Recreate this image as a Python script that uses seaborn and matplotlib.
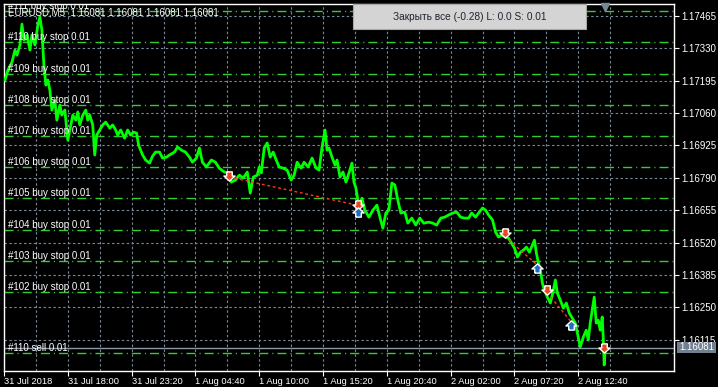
import matplotlib
matplotlib.use("Agg")
import matplotlib.pyplot as plt
from matplotlib.patches import Rectangle
from matplotlib.transforms import blended_transform_factory
from datetime import datetime, timedelta
import pandas as pd
import seaborn as sns

# ---------------- data ----------------
symbol = "EURUSD,M5"
ohlc = [1.16081, 1.16081, 1.16081, 1.16081]
bid_price = 1.16081
start_time = datetime(2018, 7, 31, 12, 40)
bar_minutes = 5

bar_offsets = [
    1, 4, 8, 11, 13, 16, 18, 20, 23, 26, 28, 31, 34, 36, 38, 40, 42, 44, 46, 48,
    51, 53, 56, 58, 61, 64, 66, 69, 72, 74, 76, 79, 82, 84, 86, 89, 91, 93, 96, 99,
    102, 106, 109, 112, 114, 117, 121, 124, 127, 130, 133, 135, 137, 139, 142, 146, 149, 152,
    156, 159, 163, 166, 171, 174, 178, 182, 186, 189, 193, 196, 199, 203, 208, 212, 216, 221,
    224, 228, 232, 236, 240, 244, 247, 250, 254, 256, 258, 261, 264, 267, 270, 273, 276, 280,
    284, 288, 291, 294, 298, 301, 305, 309, 313,
    316, 319, 322, 324, 326, 329, 332, 334, 337, 340, 343, 346, 349, 351, 353, 356, 359, 362,
    366, 370, 374, 377, 380, 383, 386, 389, 392, 395, 398, 402, 405, 409, 413, 417, 421, 426,
    430, 434, 438, 442, 446, 450, 454, 458, 462, 466, 469, 473, 476, 480, 483, 486, 490, 493,
    496, 499, 503, 506, 509, 512, 515, 518, 521, 524, 527, 530, 532, 534, 536, 538, 540, 542,
    545, 548, 551, 553, 555, 558, 561, 564, 567, 570, 573, 576, 578, 581, 584, 586, 588, 590,
    592, 594, 596, 598, 600, 601, 602, 603,
]
close_prices = [
    1.17197, 1.17239, 1.17272, 1.17322, 1.17301, 1.17343, 1.17430, 1.17364, 1.17385, 1.17322,
    1.17385, 1.17343, 1.17426, 1.17460, 1.17405, 1.17260, 1.17176, 1.17197, 1.17155, 1.17072,
    1.17114, 1.17030, 1.17093, 1.17051, 1.17072, 1.16947, 1.16989, 1.17051, 1.17030, 1.17064,
    1.17010, 1.17051, 1.17072, 1.17030, 1.17051, 1.17010, 1.16885, 1.16968, 1.16989, 1.17010,
    1.17022, 1.16997, 1.17010, 1.16989, 1.16968, 1.16989, 1.16955, 1.16989, 1.16968, 1.16980,
    1.16976, 1.16926, 1.16905, 1.16885, 1.16864, 1.16851, 1.16880, 1.16897,
    1.16897, 1.16872, 1.16876, 1.16885, 1.16897, 1.16918, 1.16905, 1.16897, 1.16876, 1.16855,
    1.16872, 1.16914, 1.16855, 1.16835, 1.16864, 1.16855, 1.16830, 1.16814, 1.16810, 1.16772,
    1.16780, 1.16801, 1.16789, 1.16814, 1.16726, 1.16793, 1.16801, 1.16835, 1.16810, 1.16914,
    1.16935, 1.16876, 1.16897, 1.16864, 1.16835, 1.16830, 1.16822, 1.16780, 1.16801, 1.16855,
    1.16830, 1.16855, 1.16835, 1.16872, 1.16830,
    1.16822, 1.16918, 1.16989, 1.16905, 1.16914, 1.16876, 1.16843, 1.16864, 1.16793, 1.16814,
    1.16772, 1.16810, 1.16851, 1.16772, 1.16747, 1.16668, 1.16705, 1.16655, 1.16626, 1.16655,
    1.16676, 1.16626, 1.16580, 1.16643, 1.16655, 1.16768, 1.16760, 1.16697, 1.16643, 1.16647,
    1.16601, 1.16622, 1.16593, 1.16622, 1.16601, 1.16605, 1.16601, 1.16593, 1.16622, 1.16626,
    1.16635, 1.16643, 1.16647, 1.16626, 1.16622, 1.16622, 1.16643, 1.16626, 1.16643, 1.16664,
    1.16655, 1.16635, 1.16614, 1.16564, 1.16543, 1.16551, 1.16543, 1.16539, 1.16518, 1.16497,
    1.16460, 1.16480, 1.16489, 1.16501, 1.16480, 1.16510, 1.16530, 1.16476, 1.16435, 1.16405,
    1.16351, 1.16322, 1.16293, 1.16268, 1.16322, 1.16364, 1.16310, 1.16280, 1.16247, 1.16268,
    1.16226, 1.16205, 1.16185, 1.16126, 1.16085, 1.16126, 1.16155, 1.16114, 1.16185, 1.16239,
    1.16293, 1.16185, 1.16197, 1.16155, 1.16210, 1.16126, 1.16010, 1.16081,
]

order_labels = [
    "#111 buy stop 0.01", "#110 buy stop 0.01", "#109 buy stop 0.01", "#108 buy stop 0.01",
    "#107 buy stop 0.01", "#106 buy stop 0.01", "#105 buy stop 0.01", "#104 buy stop 0.01",
    "#103 buy stop 0.01", "#102 buy stop 0.01", "#110 sell 0.01",
]
order_prices = [
    1.17484, 1.17354, 1.17224, 1.17094, 1.16964, 1.16834, 1.16704, 1.16574,
    1.16444, 1.16314, 1.16058,
]

sell_bars = [226, 355, 502, 545, 602]
sell_prices = [1.16797, 1.16676, 1.16559, 1.16322, 1.16081]
buy_bars = [355, 535, 569]
buy_prices = [1.16647, 1.16414, 1.16176]

trade_open_bars = [226, 502, 545]
trade_open_prices = [1.16793, 1.16547, 1.16310]
trade_close_bars = [354, 535, 569]
trade_close_prices = [1.16676, 1.16426, 1.16189]

ytick_values = [1.17465, 1.17330, 1.17195, 1.17060, 1.16925, 1.16790, 1.16655,
                1.16520, 1.16385, 1.16250, 1.16115]
ytick_labels = ["1.17465", "1.17330", "1.17195", "1.17060", "1.16925", "1.16790",
                "1.16655", "1.16520", "1.16385", "1.16250", "1.16115"]
xtick_labels = ["31 Jul 2018", "31 Jul 18:00", "31 Jul 23:20", "1 Aug 04:40",
                "1 Aug 10:00", "1 Aug 15:20", "1 Aug 20:40", "2 Aug 02:00",
                "2 Aug 07:20", "2 Aug 12:40"]
xtick_step_bars = 64
view_bars = 670
y_min, y_max = 1.15985, 1.17514
button_text = "Закрыть все (-0.28) L: 0.0 S: 0.01"
shift_marker_bar = 603

# ---------------- helpers ----------------
def bar_time(b):
    return start_time + timedelta(minutes=bar_minutes * b)

df = pd.DataFrame({"time": [bar_time(b) for b in bar_offsets], "price": close_prices})

sns.set_theme(style="dark")
plt.rcParams['font.family'] = ['Liberation Sans', 'DejaVu Sans']

W, H = 718, 387
fig = plt.figure(figsize=(W / 100, H / 100), dpi=100, facecolor="black")
ax = fig.add_axes([4 / W, (H - 371) / H, 670 / W, 367 / H])
ax.set_facecolor("black")

grid_col = "#778899"
green_dash = "#32cd32"

# order lines
for lab, pr in zip(order_labels, order_prices):
    ax.axhline(pr, color=green_dash, lw=1.0, ls=(0, (6.5, 2.9, 0.8, 2.9)), zorder=2)
    ax.annotate(lab, xy=(0.006, pr), xycoords=("axes fraction", "data"),
                xytext=(0, 1.5), textcoords="offset points", va="baseline", ha="left",
                color="white", fontsize=7, zorder=6, annotation_clip=False, clip_on=True)

# bid line
ax.axhline(bid_price, color="#8a98a6", lw=1.0, zorder=2)

# price line
sns.lineplot(data=df, x="time", y="price", ax=ax, color="#00ff00", lw=2.0, zorder=4)

# trade connection lines
for ob, op, cb, cp in zip(trade_open_bars, trade_open_prices, trade_close_bars, trade_close_prices):
    ax.plot([bar_time(ob), bar_time(cb)], [op, cp], color="#ff3a1a", lw=1.0,
            ls=(0, (2, 2)), zorder=5)

down_arrow = [(-0.3, 0.5), (0.3, 0.5), (0.3, 0.05), (0.6, 0.05), (0, -0.5),
              (-0.6, 0.05), (-0.3, 0.05), (-0.3, 0.5)]
up_arrow = [(x, -y) for x, y in down_arrow]
ax.plot([bar_time(b) for b in sell_bars], sell_prices, ls="none", marker=down_arrow,
        markersize=8, markerfacecolor="#e8461e", markeredgecolor="white",
        markeredgewidth=1.0, zorder=7)
ax.plot([bar_time(b) for b in buy_bars], buy_prices, ls="none", marker=up_arrow,
        markersize=8, markerfacecolor="#1f6fc0", markeredgecolor="white",
        markeredgewidth=1.0, zorder=7)

# chart shift marker
ax.plot([bar_time(shift_marker_bar)], [0.992], ls="none", marker="v", markersize=6,
        color=grid_col, transform=blended_transform_factory(ax.transData, ax.transAxes),
        clip_on=False, zorder=8)

# axes limits and ticks
ax.set_xlim(bar_time(0), bar_time(view_bars))
ax.set_ylim(y_min, y_max)
ax.set_xlabel("")
ax.set_ylabel("")

major_times = [bar_time(k * xtick_step_bars) for k in range(len(xtick_labels))]
minor_times = [bar_time(k * xtick_step_bars + xtick_step_bars // 2)
               for k in range(len(xtick_labels) + 1)]
ax.set_xticks(major_times)
ax.set_xticklabels(xtick_labels, ha="left")
ax.set_xticks(minor_times, minor=True)
ax.set_yticks(ytick_values)
ax.set_yticklabels(ytick_labels)

ax.tick_params(axis="x", which="major", colors="white", length=3.8, width=0.8,
               pad=0.5, labelsize=6.7, bottom=True)
ax.tick_params(axis="x", which="minor", length=0, bottom=False)
ax.tick_params(axis="y", colors="white", length=3.8, width=0.8, pad=1.2,
               labelsize=7, left=False, right=True, labelleft=False, labelright=True)

ax.set_axisbelow(True)
ax.xaxis.grid(True, which="both", color=grid_col, lw=0.8, ls=(0, (2.2, 2.2)))
ax.yaxis.grid(True, which="major", color=grid_col, lw=0.8, ls=(0, (2.2, 2.2)))

for sp in ax.spines.values():
    sp.set_visible(True)
    sp.set_color("white")
    sp.set_linewidth(1.0)

# header text
ax.text(0.006, (371 - 15.5) / 367, symbol + "  " + " ".join(f"{v:.5f}" for v in ohlc),
        transform=ax.transAxes, color="white", fontsize=7, va="baseline", ha="left",
        zorder=9)

# close-all button
fig.patches.append(Rectangle((353 / W, (H - 29) / H), 233 / W, 25 / H,
                             transform=fig.transFigure, facecolor="#d4d4d4",
                             edgecolor="#a8a8a8", lw=0.8, zorder=10))
fig.text(469.5 / W, (H - 17) / H, button_text, color="#1e2430", fontsize=7.3,
         ha="center", va="center", zorder=11)

# bid price tag
fig.patches.append(Rectangle((677 / W, (H - 353) / H), 39 / W, 11 / H,
                             transform=fig.transFigure, facecolor="#708090",
                             edgecolor="none", zorder=10))
fig.text(696.5 / W, (H - 347.5) / H, f"{bid_price:.5f}", color="white", fontsize=7,
         ha="center", va="center", zorder=11)

fig.savefig("out.png", dpi=100, facecolor="black")
